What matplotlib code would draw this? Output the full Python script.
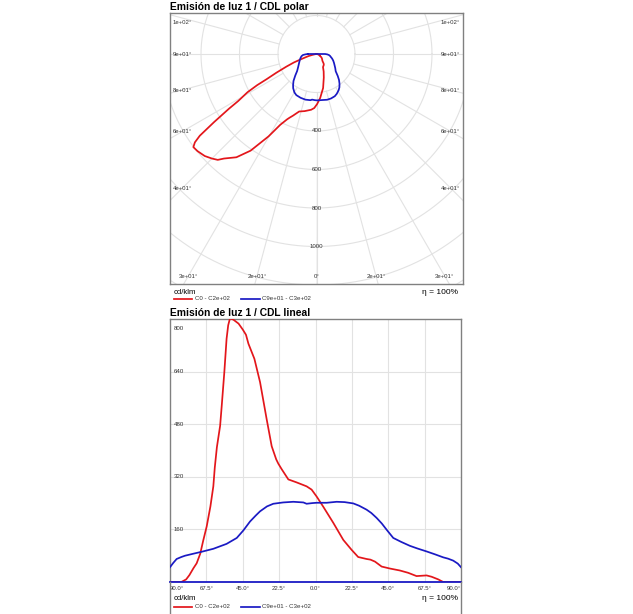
import matplotlib
matplotlib.use("Agg")
import matplotlib.pyplot as plt
import numpy as np
from matplotlib.lines import Line2D

plt.rcParams['font.family'] = ['Liberation Sans', 'DejaVu Sans']

# C0 - C180 curve (gamma in degrees, cd/klm), left side negative
red_ang = [-90, -83, -80, -78, -75.5, -73.5, -71.3, -69.5, -67.3, -65, -63.2, -62.3,
           -61, -59, -58, -56.4, -55, -54, -52.9, -50.8, -47.6, -45, -43, -41.5,
           -37.8, -34.3, -30.2, -27.1, -24.3, -23, -20.9, -16.8, -11.7, -5.5, -2.4,
           0.7, 4.8, 11, 17.2, 22.3, 26.4, 31.6, 34, 36.8, 40.9, 46, 52.2, 57.3,
           62.5, 68.7, 71.8, 75.9, 79, 90]
red_val = [0, 0, 8, 21, 42, 57, 86, 125, 169, 230, 291, 348,
           410, 475, 536, 638, 740, 781, 802, 798, 786, 768, 752, 725,
           679, 608, 495, 413, 373, 360, 343, 312, 303, 291, 281,
           260, 229, 180, 128, 98, 76, 70, 68, 62, 47, 41, 35, 28,
           18, 20, 16, 8, 0, 0]

# C90 - C270 curve
blue_ang = [-90, -88, -85.9, -83, -80.7, -75.6, -70.4, -63.2, -55, -48.7, -44.6,
            -40.5, -37, -34.3, -30, -26.1, -20, -13.7, -7.5, -5.5, -2, 0.7, 6.9,
            13.1, 18, 23.4, 27, 31.6, 34.5, 37.8, 41, 44, 48.1, 53, 58.4, 63,
            68.7, 74, 79, 82, 85.2, 88, 90]
blue_val = [45, 58, 70, 76, 80, 86, 92, 101, 116, 134, 157,
            184, 202, 215, 230, 238, 242, 244, 242, 238, 240, 241, 241,
            244, 243, 239, 232, 220, 210, 195, 178, 159, 134, 122, 110, 102,
            93, 84, 75, 71, 65, 56, 45]

lin_xticks = [-90, -67.5, -45, -22.5, 0, 22.5, 45, 67.5, 90]
lin_xlabels = ['90.0°', '67.5°', '45.0°', '22.5°', '0.0°', '22.5°', '45.0°', '67.5°', '90.0°']
lin_yticks = [160, 320, 480, 640, 800]
rings = [200, 400, 600, 800, 1000, 1200, 1400]
ring_labels = [400, 600, 800, 1000]
label_angles = [0, 15, 30, 45, 60, 75, 90, 105]

RED = '#e3161b'
BLUE = '#1a1ac4'
FRAME = '#808080'
GRID = '#e2e2e2'
TXT = '#333333'
LW = 1.25

W, H = 633, 614
fig = plt.figure(figsize=(W / 100, H / 100), dpi=100)


def fx(px):
    return px / W


def fy(py):
    return 1 - py / H


# ---------------- polar panel ----------------
scale = 0.1925  # px per cd/klm
cx, cy = 316.5, 54
L, R, T, B = 170, 463, 13, 284
axp = fig.add_axes([fx(L), fy(B), (R - L) / W, (B - T) / H])
xl, xr = (L - cx) / scale, (R - cx) / scale
yt, yb = (cy - T) / scale, -(B - cy) / scale
axp.set_xlim(xl, xr)
axp.set_ylim(yb, yt)
axp.set_xticks([])
axp.set_yticks([])
for s in axp.spines.values():
    s.set_color(FRAME)
    s.set_linewidth(1.0)

th = np.linspace(0, 2 * np.pi, 400)
for r in rings:
    axp.plot(r * np.cos(th), r * np.sin(th), color=GRID, lw=0.8, zorder=1)
for g in np.arange(0, 361, 15):
    a = np.radians(g)
    axp.plot([200 * np.sin(a), 3000 * np.sin(a)], [-200 * np.cos(a), -3000 * np.cos(a)],
             color=GRID, lw=0.8, zorder=1)

for r in ring_labels:
    axp.text(0, -r, str(r), ha='center', va='center', fontsize=4.4, color=TXT, zorder=2)

ins_x = 12 / scale
ins_b = 8 / scale
for g in label_angles:
    lab = '0°' if g == 0 else format(g, '.0e') + '°'
    a = np.radians(g)
    dx, dy = np.sin(a), -np.cos(a)
    tx = (xr - ins_x) / dx if dx > 1e-9 else 1e9
    tb = (yb + ins_b) / dy if dy < -1e-9 else 1e9
    if tb <= tx:
        x = tb * dx
        y = yb + ins_b
        if g == 0:
            axp.text(0, y, lab, ha='center', va='center', fontsize=4.3, color=TXT)
        else:
            axp.text(x, y, lab, ha='center', va='center', fontsize=4.3, color=TXT)
            axp.text(-x, y, lab, ha='center', va='center', fontsize=4.3, color=TXT)
    else:
        y = min(tx * dy, yt - 9 / scale)
        axp.text(xl + 3 / scale, y, lab, ha='left', va='center', fontsize=4.3, color=TXT)
        axp.text(xr - 3 / scale, y, lab, ha='right', va='center', fontsize=4.3, color=TXT)

ra = np.radians(red_ang)
ba = np.radians(blue_ang + blue_ang[:1])
bv = np.array(blue_val + blue_val[:1])
axp.plot(np.array(red_val) * np.sin(ra), -np.array(red_val) * np.cos(ra), color=RED, lw=LW, zorder=3)
axp.plot(bv * np.sin(ba), -bv * np.cos(ba), color=BLUE, lw=LW, zorder=3)

fig.text(fx(170), fy(9.5), 'Emisión de luz 1 / CDL polar', fontsize=7.4, fontweight='bold', va='baseline')


def footer(ytxt, yleg):
    fig.text(fx(174), fy(ytxt), 'cd/klm', fontsize=5.6, va='center')
    fig.text(fx(458), fy(ytxt), 'η = 100%', fontsize=6.0, va='center', ha='right')
    fig.add_artist(Line2D([fx(174), fx(192)], [fy(yleg)] * 2, color=RED, lw=LW))
    fig.text(fx(195), fy(yleg), 'C0 - C2e+02', fontsize=4.4, va='center', color=TXT)
    fig.add_artist(Line2D([fx(241), fx(260)], [fy(yleg)] * 2, color=BLUE, lw=LW))
    fig.text(fx(262), fy(yleg), 'C9e+01 - C3e+02', fontsize=4.4, va='center', color=TXT)


footer(292, 299)

# ---------------- linear panel ----------------
L2, R2, T2, B2 = 170, 461, 319, 582
axl = fig.add_axes([fx(L2), fy(B2), (R2 - L2) / W, (B2 - T2) / H])
axl.set_xlim(-90, 90)
axl.set_ylim(0, 800)
for k in ['left', 'right', 'top']:
    axl.spines[k].set_color(FRAME)
    axl.spines[k].set_linewidth(1.0)
axl.spines['bottom'].set_visible(False)
axl.set_yticks([])
axl.set_xticks(lin_xticks)
axl.set_xticklabels(lin_xlabels, fontsize=4.3, color=TXT)
axl.tick_params(axis='x', length=0, pad=3)
tl = axl.get_xticklabels()
tl[0].set_ha('left')
tl[-1].set_ha('right')
for x in lin_xticks[1:-1]:
    axl.axvline(x, color=GRID, lw=0.8, zorder=1)
for v in lin_yticks[:-1]:
    axl.axhline(v, color=GRID, lw=0.8, zorder=1)
for v in lin_yticks:
    yv = v - 28 if v == 800 else v
    axl.text(-87.5, yv, str(v), fontsize=4.4, color=TXT, ha='left', va='center', zorder=2)

axl.plot(red_ang, red_val, color=RED, lw=LW, zorder=3)
axl.plot(blue_ang, blue_val, color=BLUE, lw=LW, zorder=3)
axl.axhline(0, color=BLUE, lw=1.3, zorder=4, clip_on=False)

# outer frame continues around labels and legend
fig.add_artist(Line2D([fx(L2), fx(L2)], [fy(B2), fy(H + 5)], color=FRAME, lw=1.0))
fig.add_artist(Line2D([fx(R2), fx(R2)], [fy(B2), fy(H + 5)], color=FRAME, lw=1.0))

fig.text(fx(170), fy(315.5), 'Emisión de luz 1 / CDL lineal', fontsize=7.4, fontweight='bold', va='baseline')
footer(598, 607)

fig.savefig('out.png', dpi=100)
